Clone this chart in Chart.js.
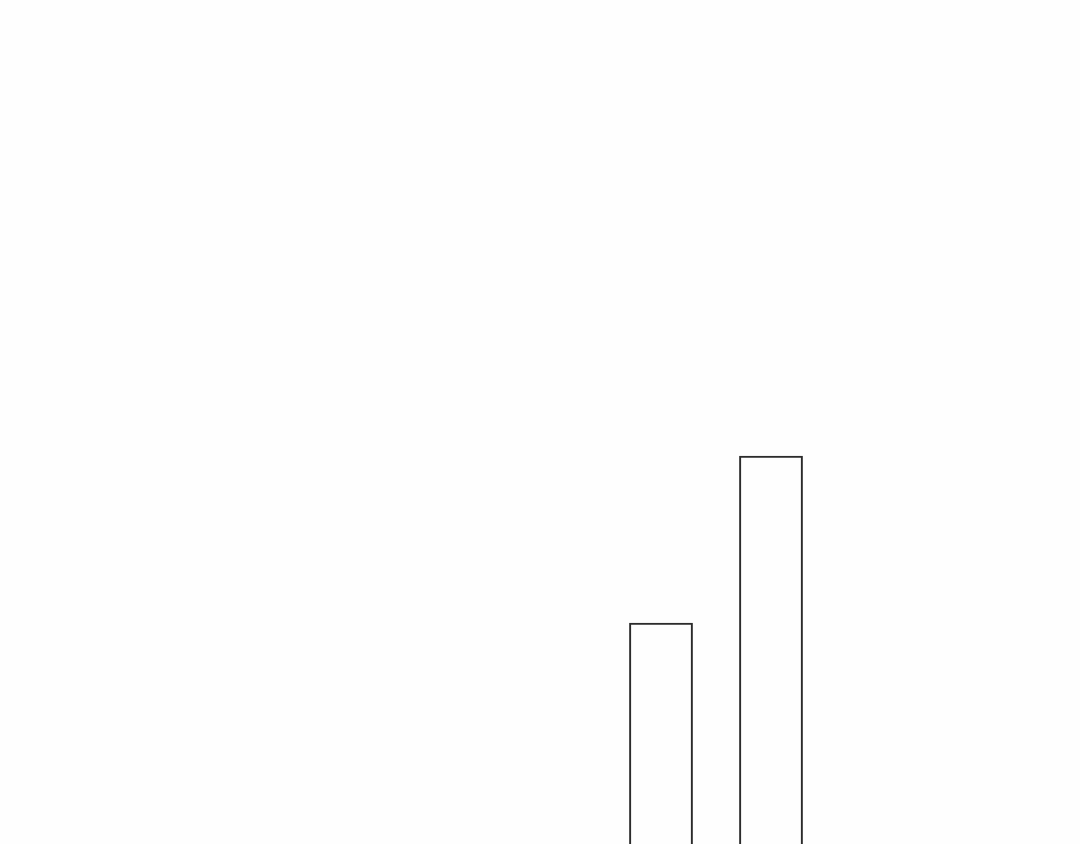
<!DOCTYPE html>
<html>
<head>
<meta charset="utf-8">
<script src="https://cdn.jsdelivr.net/npm/chart.js@4"></script>
<style>
  html, body { margin: 0; padding: 0; background: #fefefe; overflow: hidden; }
  canvas { display: block; }
</style>
</head>
<body>
<canvas id="barChart" width="1080" height="1044"></canvas>
<script>
// only two bars are visible in the crop, both run off the bottom edge
const categories = ['A', 'B'];
const values = [40.35, 56.35];

const ctx = document.getElementById('barChart').getContext('2d');

const barChart = new Chart(ctx, {
    type: 'bar',
    data: {
        labels: categories,
        datasets: [{
            data: values,
            backgroundColor: 'rgba(0,0,0,0)',
            borderColor: '#2b2b2b',
            borderWidth: 2,
            borderSkipped: false,
            categoryPercentage: 1,
            barPercentage: 0.58
        }]
    },
    options: {
        responsive: false,
        animation: false,
        devicePixelRatio: 1,
        layout: { padding: { left: 606, right: 254, top: 0, bottom: 0 } },
        plugins: {
            legend: { display: false },
            tooltip: { enabled: false }
        },
        scales: {
            x: { display: false },
            y: { display: false, min: 0, max: 100 }
        }
    }
});
</script>
</body>
</html>
